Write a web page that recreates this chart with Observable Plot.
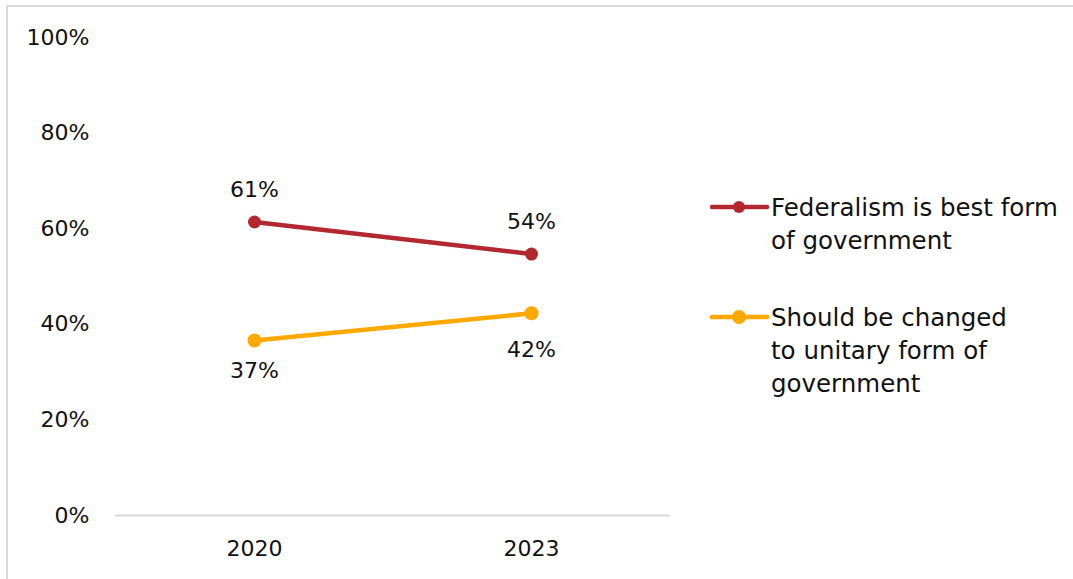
<!DOCTYPE html>
<html>
<head>
<meta charset="utf-8">
<script src="https://cdn.jsdelivr.net/npm/d3@7"></script>
<script src="https://cdn.jsdelivr.net/npm/@observablehq/plot@0.6"></script>
<style>
  html, body { margin: 0; padding: 0; background: #fff; }
  #wrap { position: relative; width: 1073px; height: 579px; overflow: hidden; font-family: "DejaVu Sans", sans-serif; }
  #frame { position: absolute; left: 6px; top: 5px; width: 1100px; height: 620px; border: 2px solid #d9d9d9; box-sizing: border-box; pointer-events: none; }
  #chart { position: absolute; left: 0; top: 0; }
  #legend { position: absolute; left: 0; top: 0; font-size: 24.5px; color: #111; }
  .sw { position: absolute; left: 710px; }
  .txt { position: absolute; left: 771px; line-height: 33px; white-space: nowrap; }
</style>
</head>
<body>
<div id="wrap">
  <div id="chart"></div>
  <div id="legend"></div>
  <div id="frame"></div>
</div>
<script>
const years = ["2020", "2023"];
const federalism = [61.4, 54.7];
const unitary = [36.6, 42.3];
const federalismLabels = ["61%", "54%"];
const unitaryLabels = ["37%", "42%"];
const yTicks = [0, 20, 40, 60, 80, 100];
const seriesNames = ["Federalism is best form of government", "Should be changed to unitary form of government"];
const seriesLines = [["Federalism is best form", "of government"], ["Should be changed", "to unitary form of", "government"]];
const colors = ["#B2282E", "#FFA800"];

const fedData = years.map((y, i) => ({year: y, value: federalism[i], label: federalismLabels[i], series: seriesNames[0]}));
const uniData = years.map((y, i) => ({year: y, value: unitary[i], label: unitaryLabels[i], series: seriesNames[1]}));

const chart = Plot.plot({
  width: 1073,
  height: 579,
  marginTop: 37,
  marginBottom: 64,
  marginLeft: 115,
  marginRight: 403,
  style: {fontFamily: "DejaVu Sans, sans-serif", fontSize: "22px", color: "#111", background: "transparent"},
  x: {type: "point", domain: years, padding: 0.5, label: null, tickSize: 0, tickPadding: 25},
  y: {domain: [0, 100], ticks: yTicks, tickFormat: d => d + "%", label: null, tickSize: 0, tickPadding: 26},
  marks: [
    Plot.ruleY([0], {stroke: "#d9d9d9", strokeWidth: 2}),
    Plot.line(fedData, {x: "year", y: "value", stroke: colors[0], strokeWidth: 4.5}),
    Plot.dot(fedData, {x: "year", y: "value", fill: colors[0], r: 6.5}),
    Plot.line(uniData, {x: "year", y: "value", stroke: colors[1], strokeWidth: 4.5}),
    Plot.dot(uniData, {x: "year", y: "value", fill: colors[1], r: 7}),
    Plot.text(fedData, {x: "year", y: "value", text: "label", dy: -32, fill: "#111", fontSize: 22}),
    Plot.text(uniData.slice(0, 1), {x: "year", y: "value", text: "label", dy: 30, fill: "#111", fontSize: 22}),
    Plot.text(uniData.slice(1), {x: "year", y: "value", text: "label", dy: 37, fill: "#111", fontSize: 22})
  ]
});
document.getElementById("chart").appendChild(chart);

const legend = document.getElementById("legend");
const centers = [207, 317];
seriesLines.forEach((lines, i) => {
  const s = d3.create("svg").attr("class", "sw").attr("width", 60).attr("height", 16)
    .style("top", (centers[i] - 8) + "px");
  s.append("line").attr("x1", 2).attr("x2", 57).attr("y1", 8).attr("y2", 8).attr("stroke", colors[i]).attr("stroke-width", 4.5).attr("stroke-linecap", "round");
  s.append("circle").attr("cx", 29).attr("cy", 8).attr("r", i === 0 ? 6 : 7).attr("fill", colors[i]);
  legend.appendChild(s.node());
  const t = document.createElement("div");
  t.className = "txt";
  t.style.top = (centers[i] - 16.5) + "px";
  t.innerHTML = lines.join("<br>");
  legend.appendChild(t);
});
</script>
</body>
</html>
